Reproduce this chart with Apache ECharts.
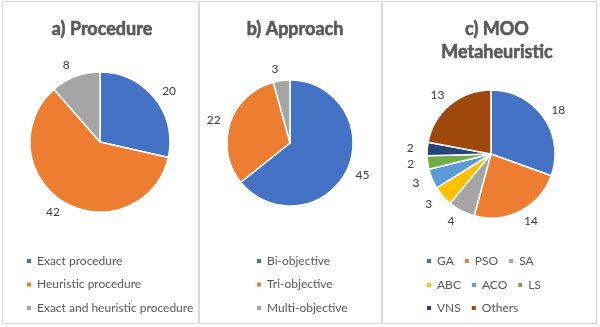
<!DOCTYPE html>
<html><head><meta charset="utf-8">
<script src="https://cdn.jsdelivr.net/npm/echarts@6/dist/echarts.min.js"></script>
<style>html,body{margin:0;padding:0;background:#fff}#c{width:600px;height:327px}</style>
</head><body><div id="c"></div>
<script>
const procCats = ['Exact procedure', 'Heuristic procedure', 'Exact and heuristic procedure'];
const procVals = [20, 42, 8];
const apprCats = ['Bi-objective', 'Tri-objective', 'Multi-objective'];
const apprVals = [45, 22, 3];
const mooCats = ['GA', 'PSO', 'SA', 'ABC', 'ACO', 'LS', 'VNS', 'Others'];
const mooVals = [18, 14, 4, 3, 3, 2, 2, 13];
const titles = ['a) Procedure', 'b) Approach', 'c) MOO\nMetaheuristic'];

const palette = ['#4472C4', '#ED7D31', '#A5A5A5', '#FFC000', '#5B9BD5', '#70AD47', '#264478', '#9E480E'];
const FONT = 'Lato';
const txt = '#595959';

function mk(cats, vals) { return cats.map((n, i) => ({ name: n, value: vals[i], itemStyle: { color: palette[i] } })); }

const chart = echarts.init(document.getElementById('c'));
const pieBase = {
  type: 'pie', startAngle: 90, clockwise: true, animation: false, silent: true, avoidLabelOverlap: false,
  itemStyle: { borderColor: '#fff', borderWidth: 1.5 },
  label: { show: true, position: 'outside', formatter: '{c}', color: '#404040', fontFamily: FONT, fontSize: 12 },
  labelLine: { show: false, length: 12, length2: 0 },
  labelLayout: function () { return { align: 'center', verticalAlign: 'middle' }; }
};
const legBase = {
  icon: 'rect', itemWidth: 6, itemHeight: 6, selectedMode: false,
  textStyle: { color: txt, fontFamily: FONT, fontSize: 12 }
};
const titleStyle = { color: txt, fontFamily: FONT, fontSize: 18, fontWeight: 'bold', lineHeight: 23, textBorderColor: txt, textBorderWidth: 0.6 };
chart.setOption({
  animation: false,
  graphic: [
    { type: 'rect', shape: { x: 2.5, y: 1.5, width: 196, height: 322 }, style: { fill: 'none', stroke: '#d9d9d9', lineWidth: 1 } },
    { type: 'rect', shape: { x: 199.5, y: 1.5, width: 182, height: 322 }, style: { fill: 'none', stroke: '#d9d9d9', lineWidth: 1 } },
    { type: 'rect', shape: { x: 382.5, y: 1.5, width: 214, height: 322 }, style: { fill: 'none', stroke: '#d9d9d9', lineWidth: 1 } }
  ],
  title: [
    { text: titles[0], left: 97, top: 13, textAlign: 'center', textStyle: titleStyle },
    { text: titles[1], left: 290, top: 13, textAlign: 'center', textStyle: titleStyle },
    { text: titles[2], left: 492, top: 13, textAlign: 'center', textStyle: titleStyle }
  ],
  legend: [
    Object.assign({}, legBase, { orient: 'vertical', left: 20, top: 250, itemGap: 11.5, data: procCats }),
    Object.assign({}, legBase, { orient: 'vertical', left: 250, top: 250, itemGap: 11.5, data: apprCats }),
    Object.assign({}, legBase, { orient: 'horizontal', left: 420, top: 250, itemGap: 9, data: mooCats.slice(0, 3), textStyle: Object.assign({}, legBase.textStyle, { width: 31 }) }),
    Object.assign({}, legBase, { orient: 'horizontal', left: 420, top: 274, itemGap: 9, data: mooCats.slice(3, 6), textStyle: Object.assign({}, legBase.textStyle, { width: 31 }) }),
    Object.assign({}, legBase, { orient: 'horizontal', left: 420, top: 297, itemGap: 9, data: mooCats.slice(6), textStyle: Object.assign({}, legBase.textStyle, { width: 31 }) })
  ],
  series: [
    Object.assign({}, pieBase, { name: 'a', center: [100, 142], radius: 70, data: mk(procCats, procVals) }),
    Object.assign({}, pieBase, { name: 'b', center: [290, 143], radius: 63, data: mk(apprCats, apprVals) }),
    Object.assign({}, pieBase, { name: 'c', center: [491, 154], radius: 64, data: mk(mooCats, mooVals) })
  ]
});
</script></body></html>
